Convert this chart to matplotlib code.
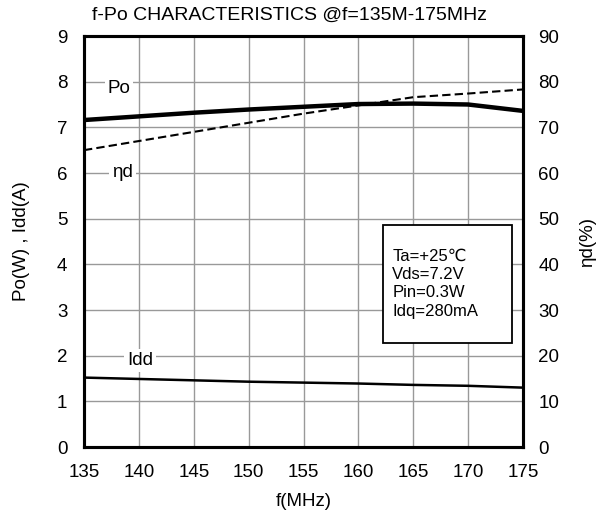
import matplotlib
matplotlib.use('Agg')
import matplotlib.pyplot as plt
from matplotlib.patches import Rectangle

plt.rcParams['font.family'] = ['Liberation Sans', 'DejaVu Sans']

freq = [135, 140, 145, 150, 155, 160, 165, 170, 175]
po = [7.16, 7.24, 7.32, 7.39, 7.45, 7.51, 7.52, 7.50, 7.36]
eta = [65.0, 67.0, 69.0, 71.0, 73.0, 74.8, 76.6, 77.4, 78.3]
idd = [1.52, 1.49, 1.46, 1.43, 1.41, 1.39, 1.36, 1.34, 1.30]

fig = plt.figure(figsize=(6.09, 5.15), dpi=100)
ax = fig.add_axes([84 / 609, 1 - 447 / 515, 439 / 609, 411 / 515])
ax2 = ax.twinx()

ax.plot(freq, po, color='black', lw=3.2, zorder=3)
ax.plot(freq, idd, color='black', lw=1.8, zorder=3)
ax2.plot(freq, eta, color='black', lw=1.5, ls=(0, (4, 2)), zorder=3)

ax.set_xlim(135, 175)
ax.set_ylim(0, 9)
ax2.set_ylim(0, 90)
ax.set_xticks(freq)
ax.set_yticks(range(0, 10))
ax2.set_yticks(range(0, 100, 10))
ax.grid(True, color='#999999', lw=1)
ax.tick_params(axis='y', labelsize=13.5, length=0, pad=12)
ax.tick_params(axis='x', labelsize=13.5, length=0, pad=12)
ax2.tick_params(labelsize=13.5, length=0, pad=11)
for a in (ax, ax2):
    for s in a.spines.values():
        s.set_linewidth(2.2)

bb = dict(facecolor='white', edgecolor='none', pad=2)
ax.text(138.2, 7.86, 'Po', fontsize=13.5, ha='center', va='center', bbox=bb, zorder=4)
ax.text(138.5, 6.02, 'ηd', fontsize=13.5, ha='center', va='center', bbox=bb, zorder=4)
ax.text(140.1, 1.90, 'Idd', fontsize=13.5, ha='center', va='center', bbox=bb, zorder=4)

# condition box
ax.add_patch(Rectangle((0.681, 0.253), 0.294, 0.287, transform=ax.transAxes,
                       facecolor='white', edgecolor='black', lw=1.3, zorder=5))
ax.text(0.702, 0.3975, 'Ta=+25℃\nVds=7.2V\nPin=0.3W\nIdq=280mA', transform=ax.transAxes,
        fontsize=12, va='center', ha='left', linespacing=1.28, zorder=6)

ax.set_xlabel('f(MHz)', fontsize=13.5)
ax.xaxis.set_label_coords(0.5, -0.112)
ax.set_ylabel('Po(W) , Idd(A)', fontsize=13.5)
ax.yaxis.set_label_coords(-0.123, 0.5)
ax2.set_ylabel('ηd(%)', fontsize=13.5)
ax2.yaxis.set_label_coords(1.128, 0.5)
fig.text(289 / 609, 1 - 15 / 515, 'f-Po CHARACTERISTICS @f=135M-175MHz', fontsize=14,
         ha='center', va='center')

fig.savefig('out.png', dpi=100)
